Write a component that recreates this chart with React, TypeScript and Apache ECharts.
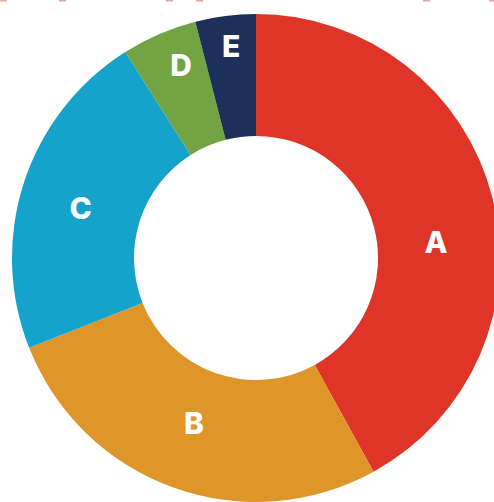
import React, { useEffect, useRef } from "react";
import * as echarts from "echarts";

const categories = ["A", "B", "C", "D", "E"];
const values = [42, 27, 22, 5, 4];
const colors = ["#DF3529", "#DE952A", "#15A3CB", "#72A443", "#1D3059"];
const labelOffsets: [number, number][] = [
  [0, 30],
  [1, -10],
  [1.5, 7],
  [-1, -22.5],
  [-1.5, -27.5],
];
const topDots = [0, 59, 166, 196, 423, 489];

export default function App() {
  const ref = useRef<HTMLDivElement>(null);
  useEffect(() => {
    if (!ref.current) return;
    const chart = echarts.init(ref.current, null, { renderer: "svg" });
    chart.setOption({
      animation: false,
      backgroundColor: "#ffffff",
      graphic: topDots.map((x) => ({
        type: "rect",
        shape: { x, y: 0, width: 7, height: 1.5 },
        style: { fill: "rgba(205,90,90,0.55)" },
        silent: true,
      })),
      series: [
        {
          type: "pie",
          center: [256, 258],
          radius: [122, 244],
          startAngle: 90,
          clockwise: true,
          avoidLabelOverlap: false,
          label: {
            show: true,
            position: "inside",
            formatter: "{b}",
            color: "#ffffff",
            fontFamily: "Inter, 'Open Sans', sans-serif",
            fontWeight: 800,
            fontSize: 30,
          },
          labelLine: { show: false },
          emphasis: { disabled: true },
          itemStyle: { borderWidth: 0 },
          data: categories.map((name, i) => ({
            name,
            value: values[i],
            itemStyle: { color: colors[i] },
            label: { offset: labelOffsets[i] },
          })),
        },
      ],
    });
    return () => chart.dispose();
  }, []);
  return (
    <div
      ref={ref}
      style={{ position: "absolute", left: 0, top: 0, width: 494, height: 502 }}
    />
  );
}
